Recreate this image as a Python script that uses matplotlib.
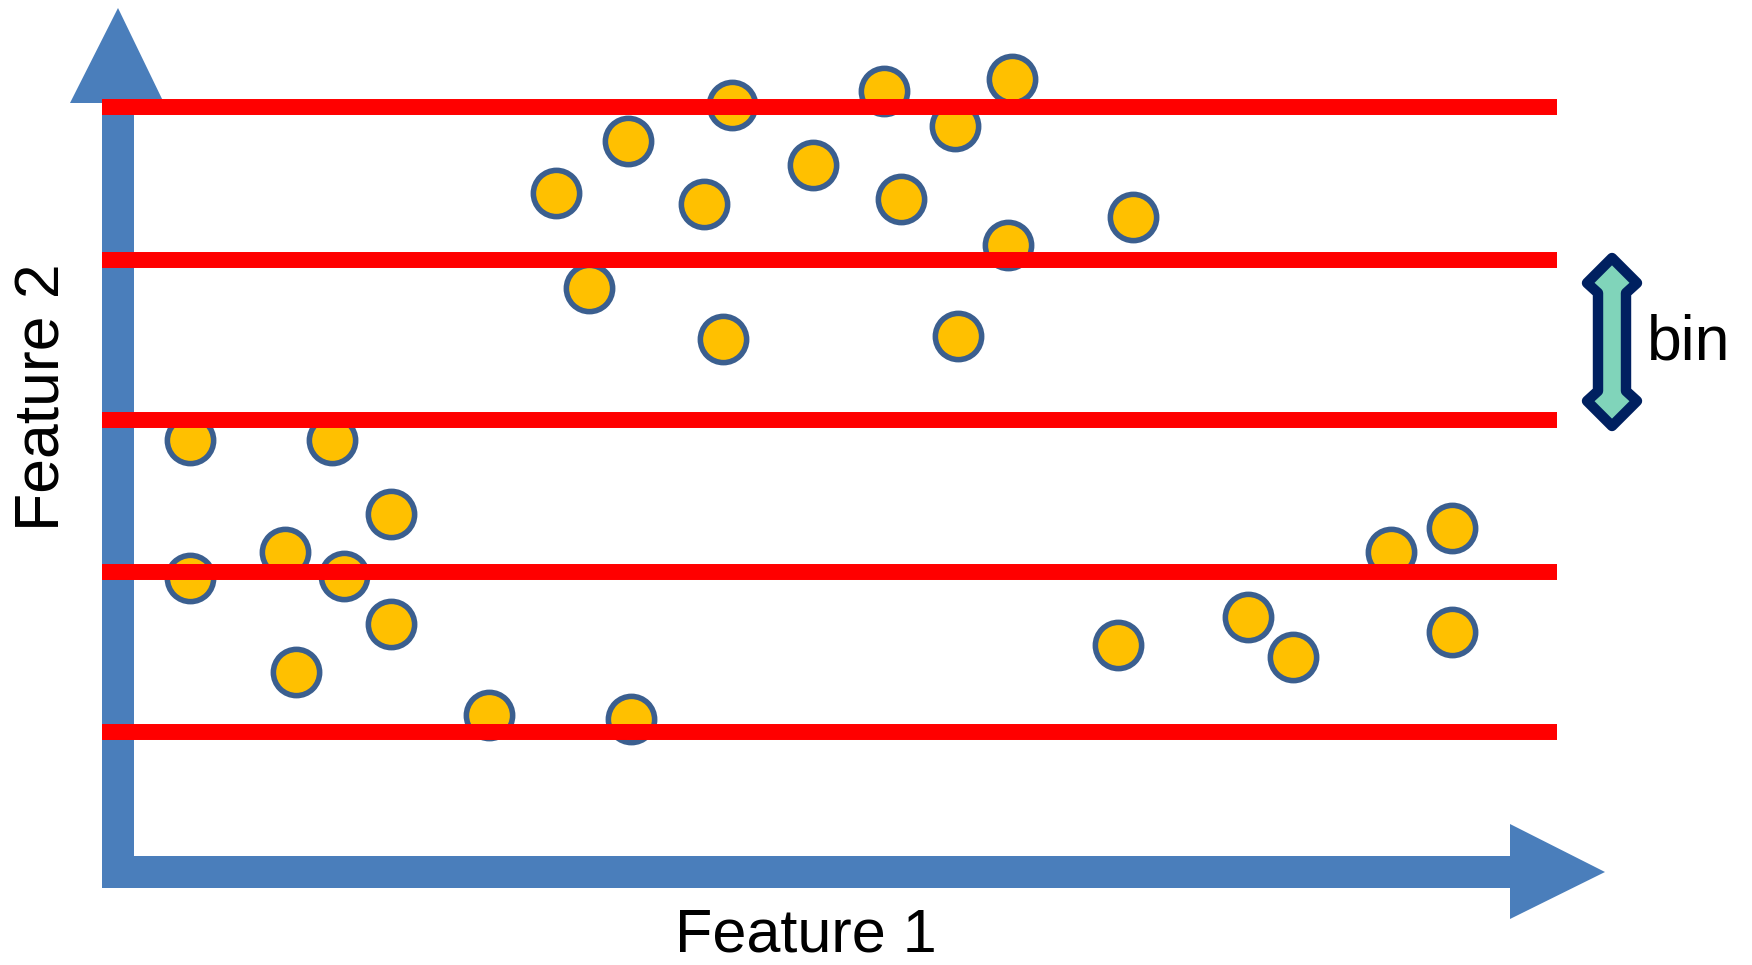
import matplotlib.pyplot as plt
from matplotlib.patches import Polygon, Rectangle

# sample points (feature 1, feature 2) in pixel units
feature1 = [190, 332, 391, 285, 190, 344, 391, 296, 489, 631,
            556, 628, 589, 732, 704, 723, 813, 884, 901, 955,
            1012, 1008, 958, 1133, 1118, 1248, 1293, 1391, 1452, 1452]
feature2 = [440, 440, 514, 552, 578, 576, 624, 672, 715, 719,
            193, 141, 288, 105, 204, 339, 165, 91, 199, 126,
            79, 245, 336, 217, 645, 617, 657, 552, 528, 632]

# bin edges along feature 2
bin_edges = [107, 260, 420, 572, 732]

blue = "#4A7EBB"

fig = plt.figure(figsize=(17.52, 9.65), dpi=100)
ax = fig.add_axes([0, 0, 1, 1])
ax.set_xlim(0, 1752)
ax.set_ylim(965, 0)
ax.axis("off")

# axis arrows
ax.add_patch(Rectangle((102, 100), 32, 788, color=blue, lw=0, zorder=1))
ax.add_patch(Rectangle((102, 856), 1410, 32, color=blue, lw=0, zorder=1))
ax.add_patch(Polygon([(70, 103), (118, 8), (164, 103)], color=blue, lw=0, zorder=1))
ax.add_patch(Polygon([(1510, 824), (1605, 872), (1510, 919)], color=blue, lw=0, zorder=1))

ax.scatter(feature1, feature2, s=1110, c="#FFC000", edgecolors="#3B5F8F",
           linewidths=4, zorder=2)

ax.hlines(bin_edges, 102, 1557, colors="#FF0000", lw=11.5, zorder=3,
          capstyle="butt")

# bin width arrow
cx = 1612
arrow = [(cx, 258), (cx + 25, 283), (cx + 14, 293), (cx + 14, 391),
         (cx + 25, 401), (cx, 426), (cx - 25, 401), (cx - 14, 391),
         (cx - 14, 293), (cx - 25, 283)]
ax.add_patch(Polygon(arrow, closed=True, facecolor="#80D4BA", edgecolor="#002060",
                     lw=7.5, joinstyle="round", zorder=4))

ax.text(1647, 343, "bin", fontsize=45, family="Liberation Sans",
        ha="left", va="center")
ax.text(806, 952, "Feature 1", fontsize=44, family="Liberation Sans",
        ha="center", va="baseline")
ax.text(43, 397, "Feature 2", fontsize=45, family="Liberation Sans",
        ha="center", va="center", rotation=90)

plt.savefig("out.png", dpi=100)
